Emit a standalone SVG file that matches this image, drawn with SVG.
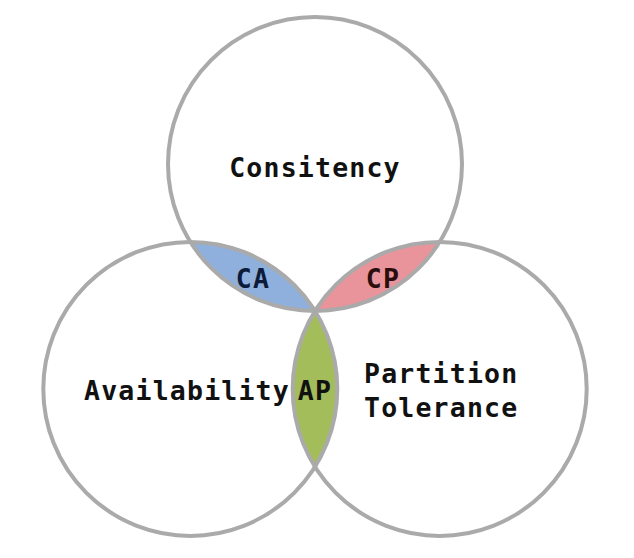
<svg xmlns="http://www.w3.org/2000/svg" width="634" height="558" viewBox="0 0 634 558">
<style>
.ring{fill:none;stroke:#aaaaaa;stroke-width:4}
.lbl{font-family:"DejaVu Sans Mono","Liberation Mono",monospace;font-weight:bold;font-size:26.5px;fill:#111111;letter-spacing:1.2px}
</style>
<rect width="634" height="558" fill="#ffffff"/>
<g id="lenses">
<path id="CA-fill" d="M190.3 241.9 A147 147 0 0 0 315 311 A147 147 0 0 0 190.3 241.9 Z" fill="#8fb0dc"/>
<path id="CP-fill" d="M315 311 A147 147 0 0 0 439.7 241.9 A147 147 0 0 0 315 311 Z" fill="#e8949a"/>
<path id="AP-fill" d="M315 311 A147 147 0 0 1 315 466.8 A147 147 0 0 1 315 311 Z" fill="#a3bd5b"/>
</g>
<g id="consistency">
<circle class="ring" cx="315" cy="164" r="147"/>
<text class="lbl" x="315" y="177" text-anchor="middle">Consitency</text>
</g>
<g id="availability">
<circle class="ring" cx="190.3" cy="388.9" r="147"/>
<text class="lbl" x="187" y="400" text-anchor="middle">Availability</text>
</g>
<g id="partition">
<circle class="ring" cx="439.7" cy="388.9" r="147"/>
<text class="lbl" x="364" y="383">Partition</text>
<text class="lbl" x="364" y="417">Tolerance</text>
</g>
<g id="ca"><text class="lbl" x="253" y="288" text-anchor="middle" style="fill:#0d1b3a">CA</text></g>
<g id="cp"><text class="lbl" x="383" y="288" text-anchor="middle" style="fill:#2a0d0d">CP</text></g>
<g id="ap"><text class="lbl" x="315" y="400" text-anchor="middle">AP</text></g>
</svg>
